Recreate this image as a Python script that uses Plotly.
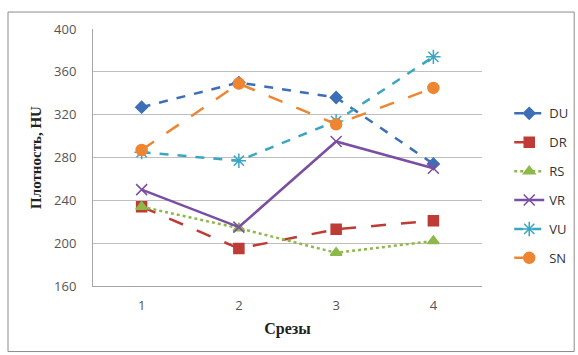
import plotly.graph_objects as go

slices = [1, 2, 3, 4]
tick_labels = ["1", "2", "3", "4"]
series_names = ["DU", "DR", "RS", "VR", "VU", "SN"]
du = [327, 350, 336, 274]
dr = [234, 195, 213, 221]
rs = [234, 214, 191, 202]
vr = [250, 215, 295, 270]
vu = [285, 277, 314, 374]
sn = [287, 349, 311, 345]

values = [du, dr, rs, vr, vu, sn]
colors = ["#3D6FB6", "#BE3B36", "#8DB84A", "#7A4FA3", "#3AA6C4", "#EE8531"]
dashes = ["dash", "longdash", "dot", "solid", "dash", "longdash"]
symbols = ["diamond", "square", "triangle-up", "x-thin-open", "asterisk-open", "circle"]
msizes = [9, 10, 10, 11, 12, 11]

fig = go.Figure()
for i, name in enumerate(series_names):
    fig.add_trace(go.Scatter(
        x=slices, y=values[i], name=name, mode="lines+markers",
        legendgroup=name,
        line=dict(color=colors[i], width=2.5, dash=dashes[i]),
        marker=dict(symbol=symbols[i], size=msizes[i], color=colors[i],
                    line=dict(color=colors[i], width=1.5)),
    ))

fig.update_layout(
    width=578, height=355,
    margin=dict(l=93, r=96, t=29, b=69, autoexpand=False),
    paper_bgcolor="white", plot_bgcolor="white",
    font=dict(family="Open Sans, Liberation Sans, sans-serif", size=13, color="#555555"),
    showlegend=True,
    legend=dict(x=1.07, y=0.73, xanchor="left", yanchor="top",
                tracegroupgap=9, font=dict(size=13, color="#333333"),
                bgcolor="rgba(0,0,0,0)"),
    xaxis=dict(range=[0.5, 4.5], tickmode="array", tickvals=slices, ticktext=tick_labels,
               showgrid=False, showline=True, linecolor="#A6A6A6", linewidth=1,
               ticks="", zeroline=False, ticklabelstandoff=7, automargin=False,
               title=dict(text="<b>Срезы</b>", standoff=10,
                          font=dict(family="Liberation Serif, Times New Roman, serif", size=16, color="#222222"))),
    yaxis=dict(range=[160, 400], dtick=40, showgrid=True, gridcolor="#BFBFBF", gridwidth=1,
               showline=True, linecolor="#A6A6A6", linewidth=1, zeroline=False, ticks="",
               ticklabelstandoff=13, automargin=False,
               title=dict(text="<b>Плотность, HU</b>", standoff=8,
                          font=dict(family="Liberation Serif, Times New Roman, serif", size=15, color="#222222"))),
    shapes=[dict(type="rect", xref="paper", yref="paper",
                 x0=-0.2185, x1=1.237, y0=-0.255, y1=1.066,
                 line=dict(color="#8C8C8C", width=1), fillcolor="rgba(0,0,0,0)", layer="below")],
)

fig.write_html("out.html", config={"displayModeBar": False},
               post_script="document.body.style.margin='0';document.body.style.overflow='hidden';")
